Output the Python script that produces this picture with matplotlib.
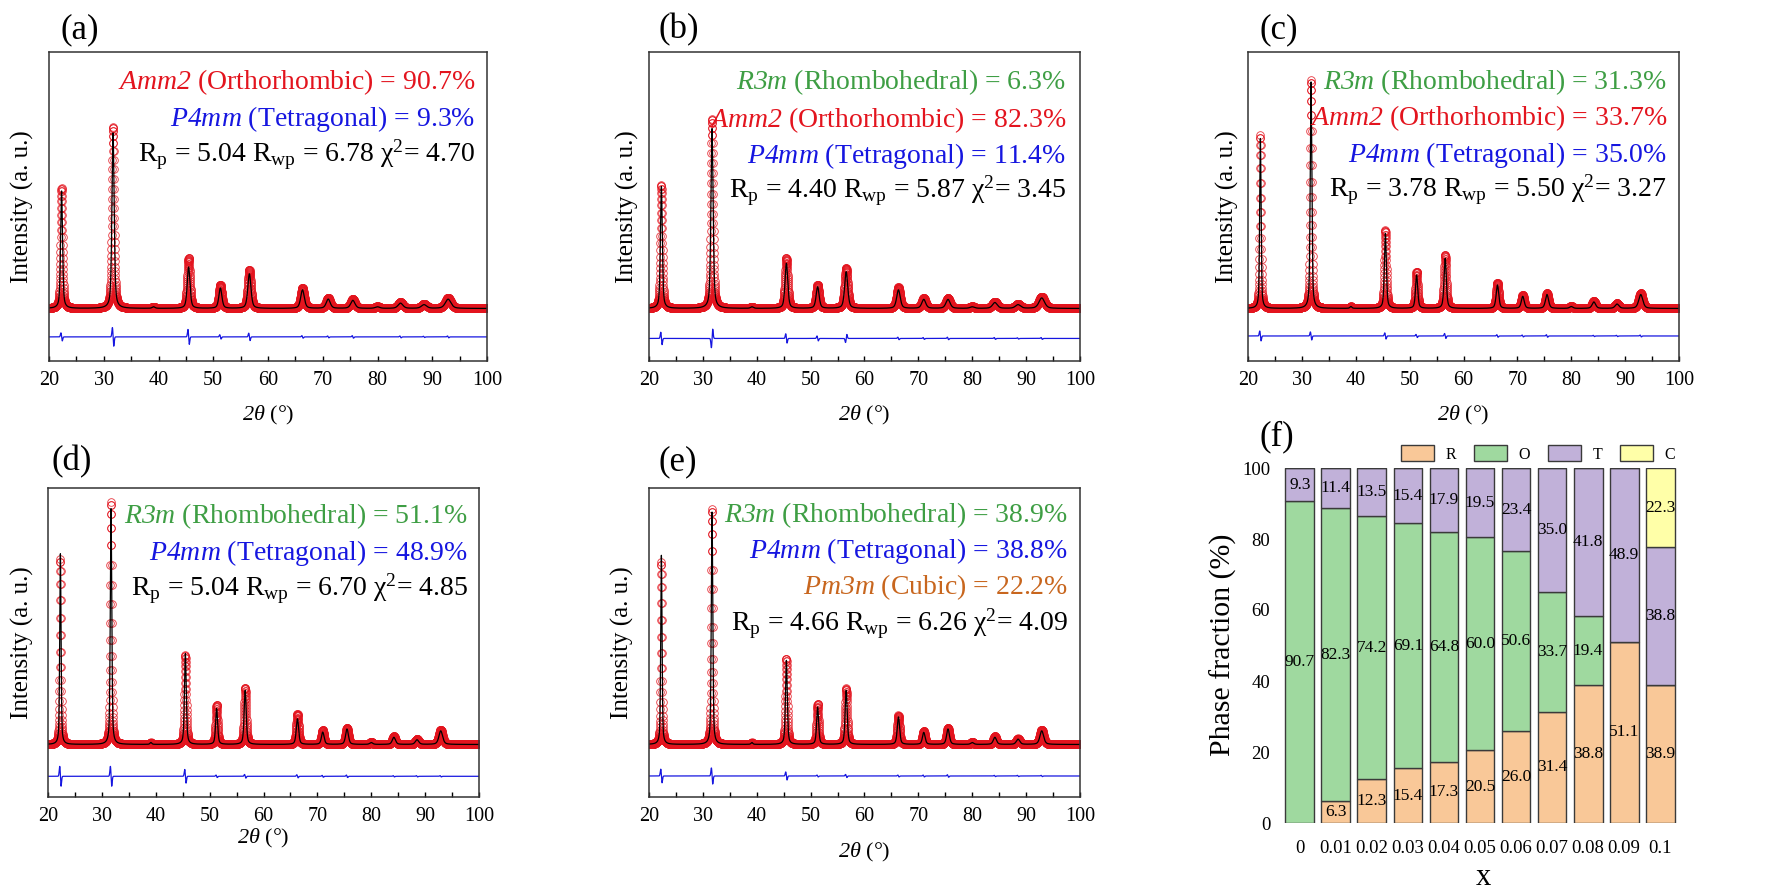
import numpy as np
import matplotlib
matplotlib.use("Agg")
import matplotlib.pyplot as plt
from matplotlib.patches import Patch

W, H = 1780, 888

plt.rcParams['font.family'] = ['Liberation Serif', 'DejaVu Serif']
plt.rcParams['mathtext.fontset'] = 'custom'
plt.rcParams['mathtext.rm'] = 'Liberation Serif'
plt.rcParams['mathtext.it'] = 'Liberation Serif:italic'
# italic slot that also slants digits (space-group symbols, 2theta)
plt.rcParams['mathtext.sf'] = 'Liberation Serif:italic'

RED = '#E3141E'
BLUE = '#1616E0'
GREEN = '#3E9E44'
ORANGE = '#C8661E'

# ---- Rietveld patterns (intensities scaled to the 0..1 frame) ----
peak_pos = [22.3, 31.7, 39.1, 45.5, 51.3, 56.6, 66.3, 71.0, 75.5, 80.0, 84.2, 88.5, 92.9]
peak_fwhm = [0.28, 0.32, 0.40, 0.40, 0.44, 0.46, 0.52, 0.58, 0.62, 0.66, 0.70, 0.76, 0.82]
background = 0.17

obs_a = [0.560, 0.757, 0.175, 0.333, 0.246, 0.294, 0.236, 0.204, 0.200, 0.176, 0.190, 0.184, 0.204]
calc_a = [0.550, 0.738, 0.175, 0.304, 0.236, 0.282, 0.230, 0.200, 0.196, 0.175, 0.187, 0.182, 0.200]
diff_a = [0.013, 0.030, 0.0, 0.024, 0.007, 0.012, 0.004, 0.003, 0.004, 0.0, 0.003, 0.002, 0.003]

obs_b = [0.569, 0.784, 0.175, 0.332, 0.246, 0.300, 0.238, 0.203, 0.203, 0.176, 0.192, 0.184, 0.208]
calc_b = [0.564, 0.752, 0.175, 0.316, 0.240, 0.289, 0.230, 0.199, 0.199, 0.175, 0.189, 0.182, 0.204]
diff_b = [0.020, -0.030, 0.0, 0.015, 0.008, -0.013, 0.004, 0.003, 0.004, 0.0, 0.003, 0.002, 0.003]

obs_c = [0.731, 0.908, 0.176, 0.423, 0.289, 0.343, 0.253, 0.213, 0.219, 0.177, 0.194, 0.186, 0.219]
calc_c = [0.720, 0.903, 0.176, 0.413, 0.278, 0.332, 0.246, 0.209, 0.215, 0.176, 0.191, 0.184, 0.215]
diff_c = [0.016, 0.013, 0.0, 0.010, 0.005, 0.008, 0.004, 0.003, 0.004, 0.0, 0.002, 0.002, 0.003]

obs_d = [0.771, 0.955, 0.176, 0.458, 0.297, 0.354, 0.268, 0.216, 0.224, 0.177, 0.196, 0.187, 0.218]
calc_d = [0.787, 0.933, 0.176, 0.464, 0.286, 0.345, 0.253, 0.210, 0.220, 0.176, 0.193, 0.185, 0.214]
diff_d = [0.032, 0.032, 0.0, 0.022, 0.004, 0.006, 0.005, 0.003, 0.004, 0.0, 0.002, 0.002, 0.002]

obs_e = [0.760, 0.933, 0.176, 0.448, 0.300, 0.351, 0.264, 0.213, 0.224, 0.177, 0.196, 0.189, 0.218]
calc_e = [0.782, 0.922, 0.176, 0.442, 0.291, 0.345, 0.259, 0.209, 0.220, 0.176, 0.193, 0.187, 0.214]
diff_e = [0.022, 0.026, 0.0, 0.013, 0.003, 0.005, 0.003, 0.003, 0.004, 0.0, 0.002, 0.002, 0.002]

diff_level = [0.078, 0.073, 0.081, 0.067, 0.068]
broadening = [1.5, 1.5, 1.1, 1.0, 1.0]

phase_text = [
    [(r'$\mathsf{Amm2}$ (Orthorhombic) = 90.7%', RED),
     (r'$\mathsf{P4mm}$ (Tetragonal) = 9.3%', BLUE)],
    [(r'$\mathsf{R3m}$ (Rhombohedral) = 6.3%', GREEN),
     (r'$\mathsf{Amm2}$ (Orthorhombic) = 82.3%', RED),
     (r'$\mathsf{P4mm}$ (Tetragonal) = 11.4%', BLUE)],
    [(r'$\mathsf{R3m}$ (Rhombohedral) = 31.3%', GREEN),
     (r'$\mathsf{Amm2}$ (Orthorhombic) = 33.7%', RED),
     (r'$\mathsf{P4mm}$ (Tetragonal) = 35.0%', BLUE)],
    [(r'$\mathsf{R3m}$ (Rhombohedral) = 51.1%', GREEN),
     (r'$\mathsf{P4mm}$ (Tetragonal) = 48.9%', BLUE)],
    [(r'$\mathsf{R3m}$ (Rhombohedral) = 38.9%', GREEN),
     (r'$\mathsf{P4mm}$ (Tetragonal) = 38.8%', BLUE),
     (r'$\mathsf{Pm3m}$ (Cubic) = 22.2%', ORANGE)],
]
r_p = [5.04, 4.40, 3.78, 5.04, 4.66]
r_wp = [6.78, 5.87, 5.50, 6.70, 6.26]
chi2 = [4.70, 3.45, 3.27, 4.85, 4.09]

# ---- phase fractions (%) vs x ----
x_labels = ['0', '0.01', '0.02', '0.03', '0.04', '0.05', '0.06', '0.07', '0.08', '0.09', '0.1']
frac_R = [0, 6.3, 12.3, 15.4, 17.3, 20.5, 26.0, 31.4, 38.8, 51.1, 38.9]
frac_O = [90.7, 82.3, 74.2, 69.1, 64.8, 60.0, 50.6, 33.7, 19.4, 0, 0]
frac_T = [9.3, 11.4, 13.5, 15.4, 17.9, 19.5, 23.4, 35.0, 41.8, 48.9, 38.8]
frac_C = [0, 0, 0, 0, 0, 0, 0, 0, 0, 0, 22.3]
phase_names = ['R', 'O', 'T', 'C']
phase_colors = ['#F9C898', '#9FD99F', '#C1B1D9', '#FFFFA8']


def pv_peak(x, pos, fwhm, eta=0.5):
    d = (x - pos) / (fwhm / 2)
    return eta / (1 + d ** 2) + (1 - eta) * np.exp(-np.log(2) * d ** 2)


def pattern(x, tops, scale):
    y = np.full_like(x, background)
    for p, w, t in zip(peak_pos, peak_fwhm, tops):
        y += (t - background) * pv_peak(x, p, w * scale)
    return y


def difference(x, amps, level):
    y = np.full_like(x, level)
    for p, a in zip(peak_pos, amps):
        s = 0.12
        u = (x - p) / s
        y += a * (-u) * np.exp(0.5 - 0.5 * u ** 2)
    return y


def px_axes(fig, l, t, r, b):
    return fig.add_axes([l / W, 1 - b / H, (r - l) / W, (b - t) / H])


fig = plt.figure(figsize=(W / 100, H / 100), dpi=100)

xrd_boxes = [(49, 52, 487, 361), (649, 52, 1080, 361), (1248, 52, 1679, 361),
             (48, 488, 479, 797), (649, 488, 1080, 797)]
text_right = [475, 1066, 1667, 468, 1068]
text_base = [[89, 126, 162], [89, 127, 163, 198], [89, 125, 162, 197],
             [523, 560, 596], [522, 558, 594, 631]]
xlabel_y = [415, 415, 415, 838, 852]
ylabel_x = [22, 627, 1227, 22, 622]
panel_lbl = [(80, 30), (679, 30), (1279, 30), (72, 462), (678, 462)]
letters = ['(a)', '(b)', '(c)', '(d)', '(e)']

all_obs = [obs_a, obs_b, obs_c, obs_d, obs_e]
all_calc = [calc_a, calc_b, calc_c, calc_d, calc_e]
all_diff = [diff_a, diff_b, diff_c, diff_d, diff_e]

tt = np.arange(20, 100.001, 0.02)

for i in range(5):
    l, t, r, b = xrd_boxes[i]
    ax = px_axes(fig, l, t, r, b)
    y_obs = pattern(tt, all_obs[i], broadening[i])
    y_calc = pattern(tt, all_calc[i], broadening[i])
    y_diff = difference(tt, all_diff[i], diff_level[i])
    ax.plot(tt, y_obs, 'o', ms=5.5, mfc='none', mec=RED, mew=0.6, alpha=0.85)
    ax.plot(tt, y_calc, '-', color='black', lw=0.9)
    ax.plot(tt, y_diff, '-', color=BLUE, lw=0.9)
    ax.set_xlim(20, 100)
    ax.set_ylim(0, 1)
    ax.set_yticks([])
    ax.set_xticks(np.arange(20, 101, 10))
    ax.set_xticks(np.arange(25, 100, 10), minor=True)
    ax.tick_params(axis='x', which='both', direction='in', length=3.5, width=1,
                   labelsize=14.5, pad=7, top=False)
    for sp in ax.spines.values():
        sp.set_color('#333333')
        sp.set_linewidth(1.1)

    lines = phase_text[i] + [(rf'R$_\mathrm{{p}}$ = {r_p[i]:.2f} R$_\mathrm{{wp}}$ = {r_wp[i]:.2f} '
                              rf'χ$^2$= {chi2[i]:.2f}', 'black')]
    for (txt, col), yb in zip(lines, text_base[i]):
        fig.text(text_right[i] / W, 1 - yb / H, txt, color=col, fontsize=20,
                 ha='right', va='baseline')

    fig.text((l + r) / 2 / W, 1 - xlabel_y[i] / H, r'$\mathsf{2\theta}$ (°)',
             fontsize=16, ha='center', va='center')
    fig.text(ylabel_x[i] / W, 1 - (t + b) / 2 / H, 'Intensity (a. u.)',
             fontsize=18, rotation=90, ha='center', va='center')
    fig.text(panel_lbl[i][0] / W, 1 - panel_lbl[i][1] / H, letters[i],
             fontsize=25, ha='center', va='center')

# ---- (f) stacked phase fractions ----
axf = px_axes(fig, 1280, 468, 1680, 823)
pos = np.arange(len(x_labels))
bottom = np.zeros(len(x_labels))
for vals, col in zip([frac_R, frac_O, frac_T, frac_C], phase_colors):
    vals = np.array(vals, dtype=float)
    axf.bar(pos, vals, width=0.8, bottom=bottom, color=col, edgecolor='#3a3a3a', lw=1)
    for xi, v, b0 in zip(pos, vals, bottom):
        if v > 0:
            axf.text(xi, b0 + v / 2, f'{v:.1f}', ha='center', va='center', fontsize=12.5)
    bottom += vals

axf.set_xlim(-0.55, 10.55)
axf.set_ylim(0, 100)
axf.set_xticks(pos)
axf.set_xticklabels(x_labels)
axf.set_yticks([0, 20, 40, 60, 80, 100])
axf.tick_params(length=0, labelsize=13.5)
axf.tick_params(axis='x', pad=12)
axf.tick_params(axis='y', pad=7)
for sp in axf.spines.values():
    sp.set_visible(False)

fig.text(1223 / W, 1 - 645 / H, 'Phase fraction (%)', fontsize=21.5, rotation=90,
         ha='center', va='center')
fig.text(1483 / W, 1 - 877 / H, 'x', fontsize=22, ha='center', va='center')
fig.text(1277 / W, 1 - 437 / H, '(f)', fontsize=25, ha='center', va='center')

handles = [Patch(facecolor=c, edgecolor='#3a3a3a', lw=1) for c in phase_colors]
fig.legend(handles, phase_names, loc='center', ncol=4, frameon=False,
           bbox_to_anchor=(1538 / W, 1 - 454 / H), fontsize=11.5,
           handlelength=2.1, handleheight=1.1, handletextpad=0.7, columnspacing=1.1)

fig.savefig('out.png', dpi=100)
